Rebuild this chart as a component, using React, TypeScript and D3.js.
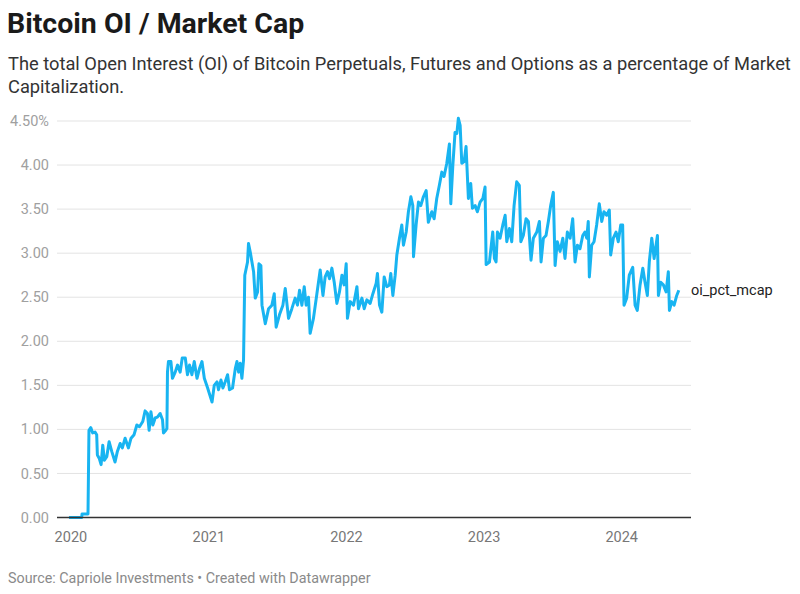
import React from "react";
import * as d3 from "d3";

// Decimal-year timestamps and OI / market-cap values (%)
const years: number[] = [
  2019.986, 2020.078, 2020.081, 2020.124, 2020.131, 2020.144, 2020.158, 2020.175, 2020.187, 2020.192,
  2020.206, 2020.219, 2020.231, 2020.243, 2020.26, 2020.277, 2020.296, 2020.32, 2020.337, 2020.357,
  2020.373, 2020.393, 2020.417, 2020.436, 2020.458, 2020.478, 2020.497, 2020.521, 2020.538, 2020.555,
  2020.567, 2020.58, 2020.594, 2020.611, 2020.627, 2020.647, 2020.664, 2020.671, 2020.688, 2020.696,
  2020.7, 2020.707, 2020.725, 2020.736, 2020.756, 2020.773, 2020.792, 2020.807, 2020.829, 2020.845,
  2020.86, 2020.877, 2020.894, 2020.914, 2020.932, 2020.95, 2020.967, 2020.991, 2021.023, 2021.039,
  2021.059, 2021.07, 2021.088, 2021.102, 2021.119, 2021.136, 2021.15, 2021.172, 2021.192, 2021.204,
  2021.216, 2021.228, 2021.24, 2021.252, 2021.261, 2021.281, 2021.288, 2021.301, 2021.313, 2021.325,
  2021.337, 2021.354, 2021.364, 2021.378, 2021.386, 2021.41, 2021.434, 2021.458, 2021.475, 2021.489,
  2021.513, 2021.538, 2021.555, 2021.579, 2021.603, 2021.627, 2021.644, 2021.659, 2021.676, 2021.693,
  2021.707, 2021.724, 2021.736, 2021.76, 2021.785, 2021.809, 2021.829, 2021.845, 2021.862, 2021.877,
  2021.894, 2021.911, 2021.93, 2021.949, 2021.967, 2021.983, 2021.998, 2022.007, 2022.027, 2022.051,
  2022.076, 2022.087, 2022.112, 2022.129, 2022.148, 2022.172, 2022.192, 2022.216, 2022.225, 2022.24,
  2022.257, 2022.274, 2022.293, 2022.312, 2022.322, 2022.337, 2022.354, 2022.366, 2022.385, 2022.402,
  2022.414, 2022.434, 2022.45, 2022.468, 2022.482, 2022.487, 2022.506, 2022.523, 2022.54, 2022.559,
  2022.579, 2022.595, 2022.62, 2022.637, 2022.656, 2022.675, 2022.693, 2022.709, 2022.729, 2022.748,
  2022.758, 2022.773, 2022.789, 2022.802, 2022.813, 2022.826, 2022.838, 2022.855, 2022.869, 2022.886,
  2022.903, 2022.915, 2022.935, 2022.951, 2022.971, 2022.991, 2023.007, 2023.015, 2023.039, 2023.063,
  2023.075, 2023.087, 2023.097, 2023.116, 2023.136, 2023.153, 2023.165, 2023.184, 2023.201, 2023.218,
  2023.237, 2023.256, 2023.267, 2023.285, 2023.305, 2023.322, 2023.341, 2023.358, 2023.383, 2023.402,
  2023.414, 2023.431, 2023.45, 2023.467, 2023.484, 2023.503, 2023.516, 2023.532, 2023.552, 2023.572,
  2023.588, 2023.605, 2023.625, 2023.644, 2023.661, 2023.678, 2023.697, 2023.717, 2023.733, 2023.746,
  2023.757, 2023.765, 2023.782, 2023.799, 2023.818, 2023.837, 2023.855, 2023.871, 2023.891, 2023.91,
  2023.92, 2023.939, 2023.959, 2023.975, 2023.993, 2024.007, 2024.017, 2024.036, 2024.055, 2024.08,
  2024.097, 2024.113, 2024.133, 2024.153, 2024.169, 2024.186, 2024.2, 2024.218, 2024.235, 2024.249,
  2024.259, 2024.266, 2024.283, 2024.302, 2024.322, 2024.338, 2024.346, 2024.363, 2024.38, 2024.399,
  2024.414,
];

const oiPctMcap: number[] = [
  0.0, 0.0, 0.04, 0.04, 0.99, 1.02, 0.96, 0.97, 0.94, 0.71,
  0.67, 0.6, 0.82, 0.65, 0.69, 0.86, 0.75, 0.63, 0.75, 0.84,
  0.79, 0.9, 0.79, 0.9, 0.94, 1.05, 1.03, 1.09, 1.21, 1.18,
  0.99, 1.2, 1.05, 1.13, 1.14, 1.18, 1.11, 0.96, 0.99, 1.01,
  1.65, 1.77, 1.77, 1.58, 1.65, 1.73, 1.65, 1.81, 1.81, 1.62,
  1.73, 1.62, 1.77, 1.58, 1.69, 1.77, 1.58, 1.47, 1.31, 1.5,
  1.54, 1.45, 1.56, 1.47, 1.54, 1.62, 1.45, 1.47, 1.69, 1.77,
  1.65, 1.75, 1.58, 1.79, 2.75, 2.9, 3.11, 3.01, 2.9, 2.79,
  2.49, 2.56, 2.88, 2.86, 2.41, 2.2, 2.37, 2.41, 2.54, 2.16,
  2.3, 2.41, 2.6, 2.26, 2.37, 2.49, 2.41, 2.58, 2.41, 2.62,
  2.41, 2.5, 2.09, 2.26, 2.54, 2.81, 2.52, 2.73, 2.79, 2.71,
  2.83, 2.67, 2.43, 2.56, 2.75, 2.64, 2.88, 2.26, 2.45, 2.41,
  2.62, 2.37, 2.49, 2.37, 2.47, 2.43, 2.54, 2.66, 2.77, 2.41,
  2.33, 2.73, 2.62, 2.64, 2.77, 2.52, 2.75, 2.98, 3.17, 3.32,
  3.09, 3.24, 3.47, 3.64, 3.54, 2.96, 3.32, 3.58, 3.54, 3.64,
  3.71, 3.35, 3.47, 3.39, 3.62, 3.77, 3.92, 3.87, 4.02, 4.24,
  3.56, 4.0, 4.37, 4.36, 4.53, 4.45, 4.02, 4.04, 4.21, 3.62,
  3.79, 3.51, 3.54, 3.47, 3.58, 3.62, 3.75, 2.87, 2.9, 3.24,
  2.94, 2.9, 3.24, 3.17, 3.32, 3.43, 3.13, 3.28, 3.13, 3.54,
  3.81, 3.77, 3.13, 3.2, 3.39, 3.36, 2.92, 3.17, 3.24, 3.36,
  2.9, 3.17, 3.2, 3.36, 3.54, 3.69, 2.86, 3.13, 3.02, 3.17,
  2.94, 3.24, 3.17, 3.39, 2.9, 3.09, 3.05, 3.2, 3.24, 3.17,
  3.36, 2.73, 3.09, 3.13, 3.32, 3.56, 3.36, 3.47, 3.43, 3.49,
  2.98, 3.17, 3.24, 3.13, 3.32, 3.32, 2.41, 2.49, 2.75, 2.84,
  2.41, 2.35, 2.64, 2.83, 2.67, 2.52, 2.9, 3.17, 2.94, 3.09,
  3.2, 2.52, 2.67, 2.64, 2.56, 2.79, 2.35, 2.45, 2.41, 2.52,
  2.58,
];

const yTicks: number[] = [0, 0.5, 1, 1.5, 2, 2.5, 3, 3.5, 4, 4.5];
const xTickYears: number[] = [2020, 2021, 2022, 2023, 2024];
const seriesName = "oi_pct_mcap";
const title = "Bitcoin OI / Market Cap";
const subtitleLines = [
  "The total Open Interest (OI) of Bitcoin Perpetuals, Futures and Options as a percentage of Market",
  "Capitalization.",
];
const footer = "Source: Capriole Investments \u2022 Created with Datawrapper";

function yearToDate(y: number): Date {
  const yr = Math.floor(y);
  const start = Date.UTC(yr, 0, 1);
  const end = Date.UTC(yr + 1, 0, 1);
  return new Date(start + (y - yr) * (end - start));
}

export default function App() {
  const W = 800;
  const H = 594;
  const plotLeft = 57;
  const plotRight = 691;
  const data = years.map((y, i) => ({ date: yearToDate(y), value: oiPctMcap[i] }));

  const x = d3
    .scaleUtc()
    .domain([new Date(Date.UTC(2019, 11, 27)), new Date(Date.UTC(2024, 5, 1))])
    .range([69, 679]);
  const y = d3.scaleLinear().domain([0, 4.5]).range([517.5, 121]);

  const line = d3
    .line<{ date: Date; value: number }>()
    .x((d) => x(d.date))
    .y((d) => y(d.value));

  const font = "Roboto, 'Noto Sans', sans-serif";
  const last = data[data.length - 1];

  return (
    <div style={{ position: "absolute", left: 0, top: 0 }}>
      <svg width={W} height={H} style={{ display: "block", background: "#fff" }} fontFamily={font}>
        <rect width={W} height={H} fill="#fff" />
        <text x={7} y={33} fontSize={28.5} fontWeight={700} fill="#1a1a1a">
          {title}
        </text>
        {subtitleLines.map((s, i) => (
          <text key={i} x={8} y={70 + i * 23} fontSize={18.3} fill="#333">
            {s}
          </text>
        ))}
        {yTicks.map((t) => (
          <g key={t}>
            {t !== 0 && (
              <line x1={plotLeft} x2={plotRight} y1={y(t)} y2={y(t)} stroke="#e3e3e3" strokeWidth={1} />
            )}
            <text
              x={49}
              y={y(t)}
              dy="0.35em"
              textAnchor="end"
              fontSize={14.5}
              fill="#a0a0a0"
            >
              {t === 4.5 ? "4.50%" : t.toFixed(2)}
            </text>
          </g>
        ))}
        {xTickYears.map((yr) => (
          <text
            key={yr}
            x={x(new Date(Date.UTC(yr, 0, 1)))}
            y={542}
            textAnchor="middle"
            fontSize={14.5}
            fill="#777"
          >
            {yr}
          </text>
        ))}
        <path d={line(data) || ""} fill="none" stroke="#18b4f1" strokeWidth={3} strokeLinejoin="round" />
        <line x1={plotLeft} x2={plotRight} y1={y(0)} y2={y(0)} stroke="#333" strokeWidth={1.5} />
        <text x={691} y={y(last.value)} dy="0.35em" fontSize={14.5} fill="#222">
          {seriesName}
        </text>
        <text x={8} y={583} fontSize={14.3} fill="#8a8a8a">
          {footer}
        </text>
      </svg>
    </div>
  );
}
